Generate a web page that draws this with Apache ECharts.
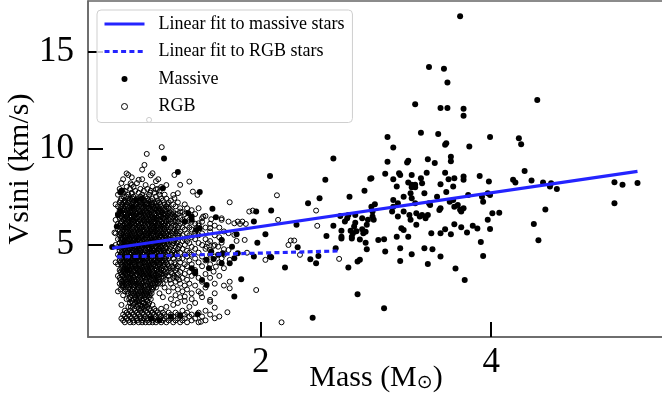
<!DOCTYPE html>
<html><head><meta charset="utf-8">
<script src="https://cdn.jsdelivr.net/npm/echarts@6/dist/echarts.min.js"></script>
<style>html,body{margin:0;padding:0;background:#fff}#c{width:662px;height:398px}</style>
</head><body><div id="c"></div>
<script>
const xTicks = [2, 4];
const yTicks = [5, 10, 15];
const massiveFit = [[0.71, 4.83], [5.27, 8.81]];
const rgbFit = [[0.75, 4.38], [2.68, 4.69]];

const massive = [
[3.73,16.83],[3.46,14.21],[3.59,14.12],[3.62,13.40],[3.34,12.28],[3.56,12.09],[3.62,12.09],[3.76,12.05],[3.76,11.68],[4.40,12.50],
[3.10,10.59],[3.39,10.81],[3.54,10.74],[3.99,10.59],[4.24,10.52],[3.15,10.04],[3.60,10.18],[3.61,10.26],[3.81,10.09],[4.26,10.21],
[2.63,9.47],[3.10,9.31],[3.27,9.26],[3.28,9.36],[3.45,9.44],[3.51,9.24],[3.65,9.57],[3.65,9.33],
[2.77,7.50],[2.90,7.80],[2.95,8.43],[3.08,8.68],[3.15,8.40],[3.18,8.02],[3.20,8.71],[3.21,8.62],[3.28,8.23],[3.31,7.99],[3.34,7.99],[3.31,8.62],[3.39,8.45],[3.40,8.19],[3.44,8.74],[3.56,8.14],[3.60,8.74],[3.61,7.74],[3.63,8.40],[3.68,8.45],[3.67,8.02],[3.76,8.54],[3.76,8.37],[3.90,8.57],[3.98,8.28],[4.19,8.37],[4.21,8.23],[4.29,8.83],[4.35,8.33],[4.45,8.23],[4.52,8.19],[4.51,8.02],[4.57,7.90],[5.07,8.25],[5.14,8.11],[5.27,8.21],
[3.99,7.59],[4.01,6.64],[4.07,6.67],[3.99,5.83],[4.47,6.83],[4.37,6.09],[4.41,5.24],[5.07,7.16],
[2.63,5.99],[2.65,4.83],[2.76,3.83],[2.84,4.14],[2.86,4.23],[2.84,2.45],[3.07,1.73],[2.73,6.21],[2.75,6.38],[2.70,5.43],[2.78,5.74],[2.79,5.43],[2.80,5.61],[2.81,5.95],[2.88,5.81],[2.89,5.61],[2.91,5.68],[2.92,6.04],[2.91,5.12],[2.92,4.78],[3.02,5.26],[3.07,5.30],[3.08,4.66],[3.21,4.83],[3.21,4.17],[3.18,5.43],[3.24,5.78],[3.28,5.43],[3.31,4.52],[3.42,4.83],[3.49,4.78],[3.45,4.02],[3.56,4.40],[3.48,5.61],[3.56,5.61],[3.60,5.81],[3.65,5.56],[3.68,6.07],[3.74,5.92],[3.79,5.64],[3.84,5.99],[3.88,5.85],[3.69,3.78],[3.77,3.19],[3.91,5.16],[3.93,4.43],[3.97,6.30],
[2.96,8.45],[3.64,7.24],[3.67,7.33],[3.71,7.07],[3.73,6.82],[3.80,7.59],[3.92,7.50],[3.93,7.24],[3.97,7.68],
[3.24,7.50],[3.30,7.68],[3.31,7.42],[3.34,7.16],[3.42,7.68],[3.46,7.16],[3.53,7.50],[3.56,6.90],[3.55,6.81],
[3.15,7.33],[3.19,7.16],[3.15,6.98],[3.14,6.73],[3.24,6.73],[3.19,6.47],[3.29,6.55],[3.30,6.30],[3.35,6.64],[3.35,6.04],[3.38,6.47],[3.40,6.55],[3.43,6.38],[3.45,6.55],
[2.97,6.73],[2.97,6.47],[2.98,6.30],[2.96,6.98],[2.99,7.11],[3.22,5.87],[3.31,8.11],[3.34,8.11],[3.47,7.07],[3.68,6.98],[3.76,6.90],[3.74,6.73],
[2.08,8.57],[2.56,8.37],[2.51,7.42],[2.41,7.16],[1.96,6.73],[2.09,6.78],[1.94,6.21],[2.31,6.04],[2.69,6.50],[2.76,6.55],[2.82,6.55],[2.82,6.15],[2.88,6.38],[2.93,6.30],
[2.04,5.56],[1.97,5.12],[2.57,5.47],[2.70,5.74],[2.70,5.33],[2.79,5.33],[2.83,5.71],[2.86,5.28],[2.32,4.88],[1.94,4.40],[2.08,4.40],[2.09,4.37],[2.43,4.26],[2.50,4.43],[2.48,4.06],[2.21,3.83],[2.45,1.24],
[0.78,7.73],[0.79,7.81],[1.16,9.47],[1.28,8.78],[1.47,7.74],[1.15,7.94],[1.58,6.87],[1.61,6.44],[0.92,7.33],[0.97,7.42],[0.78,6.73],[1.37,6.64],[1.40,6.47],[1.34,6.21],[1.44,5.78],[0.75,5.95],[0.76,6.55],[1.40,6.30],[1.47,5.87],[1.66,5.26],[1.75,4.91],[1.53,2.93],[1.43,3.54],[0.84,3.71],[1.79,5.56],
[1.83,3.23],[1.77,2.33],[1.57,4.66],[1.55,3.80],[1.49,3.19],[1.66,4.06],[1.73,4.06],[1.53,4.23],[1.59,4.28],[1.40,3.80],[1.43,3.62],[1.22,1.29],[1.45,1.42],[1.80,4.57],[1.77,4.31],[1.63,4.49],[1.67,4.57],
[0.71,4.90],[0.89,6.98],[1.05,1.20],[1.12,1.10],[1.30,1.35]
];

const rgbOutliers = [
[1.03,11.47],[1.14,10.06],[1.01,9.71],[0.99,9.14],[0.85,8.62],[0.94,8.37],[0.87,8.19],[0.88,8.11],[1.06,8.71],[1.11,8.40],[1.25,8.62],[1.30,8.11],[1.38,8.28],[1.06,8.02],[1.09,7.88],[1.12,7.76],[1.04,7.71],[0.88,7.64],[1.24,7.59],[1.25,7.42],[1.28,7.68],[1.41,7.76],[1.45,7.59],[1.73,7.21],[1.90,6.73],[0.82,7.24],[1.01,7.16],[1.05,7.12],[1.18,6.98],[1.20,6.90],[1.30,6.73],[1.50,6.47],[1.57,6.33],[1.66,6.30],[1.72,6.21],[1.77,6.12],[1.84,6.21],[1.25,6.50],[1.56,5.87],[1.72,5.61],[1.77,5.52],[0.73,5.64],
[1.93,6.78],[2.14,7.57],[2.15,6.30],[2.48,6.78],[2.49,5.99],[2.24,5.00],[2.26,5.23],[2.29,5.23],[2.34,4.49],[2.04,4.23],[2.68,4.28],[1.96,2.67],[2.18,1.00],
[1.73,3.10],[1.73,2.76],[1.60,2.50],[1.60,1.76],[1.48,2.50],[1.40,2.50],[1.34,2.33],[1.56,2.16],[1.71,1.52],[1.60,1.21],[1.48,1.03],[0.80,2.90],[1.86,5.26],[1.79,5.21],[1.72,4.74],[1.66,5.26],
[1.80,6.21],[1.82,6.09],[1.87,6.09],[1.66,6.38],[1.66,5.12],[1.63,4.91],[1.68,4.78],[1.59,4.95],[1.88,4.60],[1.59,3.62],[1.61,3.88],[1.56,2.07],[1.54,5.09],[1.56,4.74],[1.53,4.91],[1.44,5.87],[1.43,5.61],[1.49,6.38],[1.46,6.12],[1.66,4.31],[1.73,4.23]
];

// dense RGB cloud, listed as [mass, [vsini values at about that mass]]
const rgbColumns = [
[0.74,[4.1,5.0,5.6,6.3,7.1]],
[0.76,[2.6,3.4,4.0,4.5,4.9,5.3,5.8,6.1,6.6,7.0,7.6]],
[0.775,[3.0,3.3,3.7,4.2,4.4,4.7,5.1,5.5,5.7,6.0,6.4,6.8,7.2,7.9]],
[0.79,[1.2,1.9,2.9,3.1,3.5,3.8,4.0,4.3,4.6,4.8,5.0,5.2,5.4,5.6,5.9,6.2,6.5,6.7,7.0,7.4,8.2]],
[0.805,[1.1,1.4,2.4,2.8,3.2,3.4,3.6,3.9,4.1,4.4,4.7,4.9,5.1,5.3,5.5,5.8,6.0,6.3,6.6,6.9,7.2,7.7,8.4]],
[0.82,[1.0,1.3,1.6,2.6,3.0,3.3,3.5,3.8,4.0,4.2,4.5,4.8,5.0,5.2,5.4,5.7,5.9,6.1,6.4,6.7,7.0,7.3,7.8]],
[0.835,[1.2,1.5,2.2,2.9,3.1,3.4,3.7,3.9,4.1,4.3,4.6,4.9,5.1,5.3,5.6,5.8,6.0,6.2,6.5,6.8,7.1,7.5,8.0,8.7]],
[0.85,[1.1,1.4,1.8,2.5,2.8,3.0,3.3,3.6,3.8,4.0,4.2,4.4,4.7,5.0,5.2,5.4,5.7,5.9,6.1,6.3,6.6,6.9,7.2,7.6]],
[0.865,[1.0,1.3,1.6,2.0,2.3,2.7,3.1,3.4,3.5,3.9,4.1,4.3,4.5,4.8,5.0,5.3,5.5,5.8,6.0,6.2,6.4,6.7,7.0,7.4,7.9]],
[0.88,[1.2,1.5,2.1,2.4,2.6,2.9,3.2,3.5,3.7,4.0,4.2,4.4,4.6,4.9,5.1,5.3,5.6,5.8,6.1,6.3,6.5,6.8,7.1,7.3,7.7,8.5]],
[0.895,[1.0,1.1,1.4,1.9,2.2,2.5,2.8,3.0,3.3,3.6,3.8,4.1,4.3,4.5,4.7,5.0,5.2,5.4,5.7,5.9,6.2,6.4,6.6,6.9,7.2,7.5,8.0]],
[0.91,[1.3,1.6,2.0,2.3,2.6,2.9,3.1,3.4,3.7,3.9,4.0,4.2,4.4,4.6,4.8,5.1,5.3,5.5,5.8,6.0,6.3,6.5,6.7,7.0,7.3,7.8]],
[0.925,[1.1,1.2,1.5,1.8,2.1,2.4,2.7,3.0,3.2,3.5,3.8,4.1,4.3,4.5,4.7,4.9,5.2,5.4,5.6,5.9,6.1,6.4,6.6,6.9,7.1,7.4,8.2]],
[0.94,[1.0,1.4,1.7,2.0,2.2,2.5,2.8,3.1,3.3,3.6,3.9,4.0,4.2,4.4,4.6,4.8,5.0,5.3,5.5,5.7,6.0,6.2,6.5,6.8,7.0,7.3,7.7]],
[0.955,[1.2,1.3,1.6,1.9,2.3,2.6,2.9,3.2,3.4,3.7,4.0,4.2,4.5,4.7,4.9,5.1,5.4,5.6,5.8,6.1,6.3,6.6,6.8,7.1,7.5,7.9]],
[0.97,[1.0,1.1,1.5,1.8,2.1,2.4,2.7,3.0,3.3,3.5,3.8,4.1,4.3,4.4,4.6,4.9,5.2,5.4,5.7,5.9,6.2,6.4,6.7,6.9,7.2,7.6,8.4,8.9]],
[0.985,[1.2,1.4,1.7,2.0,2.2,2.5,2.8,3.1,3.4,3.6,3.9,4.1,4.3,4.5,4.8,5.0,5.3,5.5,5.8,6.0,6.3,6.5,6.8,7.0,7.3,7.8]],
[1.0,[1.0,1.3,1.6,1.9,2.3,2.6,2.9,3.2,3.5,3.7,4.0,4.2,4.4,4.7,4.9,5.1,5.4,5.6,5.9,6.1,6.4,6.6,6.9,7.2,7.5,8.1]],
[1.015,[1.1,1.2,1.5,1.8,2.1,2.4,2.7,3.0,3.3,3.6,3.8,4.1,4.3,4.6,4.8,5.0,5.3,5.5,5.7,6.0,6.2,6.5,6.7,7.0,7.4,7.9]],
[1.03,[1.0,1.4,1.7,2.0,2.3,2.5,2.8,3.1,3.4,3.6,3.9,4.2,4.4,4.6,4.9,5.1,5.4,5.6,5.8,6.1,6.3,6.6,6.9,7.1,7.6]],
[1.045,[1.2,1.3,1.6,2.2,2.6,2.9,3.2,3.5,3.7,4.0,4.3,4.5,4.7,5.0,5.2,5.5,5.7,5.9,6.2,6.4,6.7,7.0,7.3,7.8,8.6]],
[1.06,[1.0,1.1,1.5,1.9,2.7,3.0,3.3,3.6,3.8,4.1,4.4,4.6,4.8,5.1,5.3,5.6,5.8,6.0,6.3,6.5,6.8,7.1,7.4]],
[1.075,[1.2,1.4,1.7,2.9,3.1,3.4,3.7,4.0,4.2,4.5,4.7,5.0,5.2,5.4,5.7,5.9,6.2,6.4,6.6,6.9,7.2,7.7]],
[1.09,[1.0,1.3,1.6,2.8,3.2,3.5,3.8,4.1,4.3,4.6,4.9,5.1,5.3,5.5,5.8,6.0,6.3,6.5,6.8,7.0,7.5,8.3]],
[1.105,[1.1,1.5,3.0,3.3,3.6,3.9,4.2,4.4,4.7,5.0,5.2,5.5,5.7,5.9,6.1,6.4,6.7,7.0,7.3,7.9]],
[1.12,[1.2,1.4,2.5,3.1,3.5,3.8,4.0,4.3,4.6,4.8,5.1,5.4,5.6,5.8,6.1,6.3,6.6,6.9,7.2,7.6]],
[1.135,[1.0,1.3,1.7,3.3,3.7,4.1,4.4,4.7,4.9,5.2,5.5,5.7,6.0,6.2,6.5,6.8,7.0,7.4,8.0]],
[1.15,[1.1,1.5,2.3,3.0,3.4,3.9,4.2,4.5,4.8,5.1,5.3,5.6,5.9,6.1,6.4,6.6,6.9,7.3]],
[1.165,[1.2,1.4,2.8,3.6,4.0,4.3,4.6,5.0,5.2,5.5,5.8,6.0,6.3,6.5,6.8,7.1,7.6]],
[1.18,[1.0,1.3,1.8,3.2,3.8,4.1,4.4,4.8,5.1,5.4,5.6,5.9,6.2,6.4,6.7,7.0,7.4,8.1]],
[1.2,[1.1,1.5,2.6,3.4,3.9,4.3,4.7,5.0,5.3,5.5,5.8,6.1,6.3,6.6,6.9,7.2]],
[1.22,[1.2,1.4,2.2,3.0,3.6,4.1,4.5,4.9,5.2,5.5,5.9,6.2,6.5,6.8,7.3]],
[1.24,[1.0,1.3,1.9,2.8,3.3,3.8,4.3,4.7,5.1,5.4,5.7,6.0,6.4,6.7,7.1]],
[1.26,[1.1,1.5,2.4,3.1,3.7,4.0,4.5,4.9,5.3,5.6,6.0,6.3,6.6,7.0]],
[1.28,[1.2,1.4,2.0,2.7,3.5,3.9,4.4,4.8,5.2,5.5,5.9,6.2,6.6,7.2]],
[1.30,[1.0,1.3,2.3,3.0,3.6,4.1,4.6,5.0,5.4,5.7,6.1,6.4,6.9]],
[1.32,[1.1,1.6,2.6,3.3,3.8,4.3,4.8,5.2,5.5,5.9,6.3,6.7]],
[1.34,[1.2,1.4,2.1,2.9,3.5,4.0,4.5,5.0,5.3,5.8,6.2,6.6,7.1]],
[1.36,[1.0,1.5,2.7,3.2,3.9,4.4,4.7,5.2,5.6,6.0,6.4,6.9]],
[1.38,[1.3,1.8,3.0,3.6,4.2,4.6,5.1,5.5,5.9,6.3]],
[1.40,[1.1,1.4,2.2,3.4,4.0,4.5,4.9,5.4,5.8,6.2,6.8]],
[1.43,[1.2,2.0,2.9,3.7,4.3,4.8,5.3,5.7,6.1,6.6]],
[1.46,[1.0,1.5,2.6,3.3,4.1,4.6,5.1,5.5,6.0,6.9]],
[1.49,[1.3,2.3,3.1,3.9,4.4,5.0,5.6,6.2]],
[1.52,[1.1,1.6,2.8,3.5,4.2,4.8,5.3,5.9,6.5]],
[1.56,[1.4,3.3,4.0,4.5,5.2,5.7,6.1]],
[1.60,[3.0,4.4,5.0,5.5,6.0]],
[1.64,[1.3,3.4,4.1,5.4,5.9]],
[1.68,[2.9,3.8,4.5,5.7]],
// more of the crowded core
[0.7825,[2.7,3.2,3.6,4.1,4.5,4.9,5.3,5.6,6.1,6.5,6.9,7.3]],
[0.7975,[3.0,3.4,3.7,4.2,4.5,4.9,5.3,5.7,6.0,6.4,6.8,7.1,7.8]],
[0.8125,[2.9,3.1,3.7,4.3,4.6,5.0,5.2,5.6,5.9,6.3,6.8,7.5]],
[0.8275,[2.7,3.2,3.6,4.0,4.4,4.7,5.1,5.5,5.9,6.3,6.6,7.2]],
[0.8425,[2.6,3.0,3.5,3.9,4.3,4.8,5.2,5.5,5.9,6.4,6.7,7.0,7.4]],
[0.8575,[2.2,2.9,3.2,3.7,4.1,4.6,4.9,5.3,5.6,6.0,6.5,6.8,7.3]],
[0.8725,[1.8,2.5,3.0,3.3,3.8,4.2,4.6,5.0,5.4,5.7,6.1,6.5,6.9]],
[0.8875,[2.0,2.7,3.1,3.4,3.9,4.3,4.7,5.0,5.5,5.9,6.2,6.7,7.0,7.4]],
[0.9025,[1.7,2.4,2.9,3.2,3.7,4.0,4.4,4.9,5.3,5.6,6.1,6.5,6.8,7.3]],
[0.9175,[2.2,2.5,3.0,3.5,3.8,4.3,4.7,5.0,5.4,5.7,6.2,6.6,7.1]],
[0.9325,[1.9,2.6,2.9,3.4,3.7,4.2,4.6,5.1,5.3,5.8,6.2,6.7,7.2]],
[0.9475,[2.1,2.4,3.0,3.5,3.8,4.3,4.7,5.2,5.6,5.9,6.3,6.7,7.2]],
[0.9625,[1.7,2.5,2.8,3.1,3.6,3.9,4.4,4.8,5.0,5.5,5.9,6.5,7.0,7.4]],
[0.9775,[2.0,2.6,2.9,3.4,3.7,4.2,4.5,5.1,5.5,5.8,6.1,6.6,7.1]],
[0.9925,[1.8,2.4,2.7,3.3,3.8,4.1,4.6,5.0,5.2,5.7,6.2,6.7,7.3]],
[1.0075,[2.2,2.5,3.1,3.4,3.9,4.3,4.5,5.0,5.5,5.8,6.3,6.8,7.1]],
[1.0225,[1.9,2.6,2.9,3.5,3.7,4.0,4.5,4.9,5.2,5.6,6.1,6.4,6.9,7.3]],
[1.0375,[2.4,3.0,3.3,3.8,4.1,4.6,4.8,5.3,5.7,6.0,6.5,6.8]],
[1.0525,[2.5,2.8,3.4,3.9,4.2,4.6,4.9,5.4,5.8,6.1,6.6,7.2]],
[1.0675,[2.8,3.2,3.5,4.0,4.3,4.7,5.2,5.5,5.9,6.2,6.7,7.0]],
[1.0825,[3.0,3.3,3.9,4.2,4.5,4.9,5.3,5.7,6.1,6.4,6.9]],
[1.0975,[3.1,3.4,3.7,4.1,4.6,4.9,5.2,5.6,6.0,6.4,6.9,7.2]],
[1.1125,[3.2,3.5,4.0,4.4,4.8,5.3,5.6,6.0,6.5,6.8]],
[1.1275,[3.0,3.6,3.9,4.3,4.7,5.1,5.5,5.9,6.3,6.7,7.1]],
[1.1425,[3.5,3.8,4.2,4.6,5.0,5.4,5.8,6.2,6.7]],
[1.1575,[3.3,3.7,4.1,4.7,5.1,5.6,6.0,6.4,6.8]],
[1.1725,[3.5,4.2,4.5,4.9,5.3,5.7,6.1,6.6]],
[1.19,[3.6,4.0,4.6,5.2,5.7,6.0,6.5,7.1]],
[1.21,[3.2,3.8,4.4,4.8,5.4,5.7,6.4,6.7]],
[1.23,[3.5,3.9,4.5,5.0,5.6,6.1,6.6]],
[1.25,[3.4,4.1,4.6,5.2,5.8,6.2]],
[1.27,[3.3,3.8,4.6,5.1,5.7,6.4]],
[1.29,[3.2,4.3,4.9,5.6,6.0]]
];

const rgb = rgbOutliers.concat(...rgbColumns.map(c => c[1].map(v => [c[0], v])));

const serif = "'Liberation Serif','Times New Roman',serif";
const blue = '#2424ff';
const hideSym = {color: 'rgba(0,0,0,0)', borderWidth: 0, opacity: 0};
const chart = echarts.init(document.getElementById('c'));
chart.setOption({
  animation: false,
  grid: {left: 88, right: -2, top: 1, bottom: 61, outerBoundsMode: 'none', containLabel: false,
    show: true, borderColor: '#666', borderWidth: 1.5, backgroundColor: 'transparent'},
  legend: {
    orient: 'vertical', left: 97, top: 10, padding: [5, 8, 7, 6], itemGap: 9.5, itemWidth: 40, itemHeight: 6,
    backgroundColor: 'rgba(255,255,255,0.8)', borderColor: '#cfcfcf', borderWidth: 1, borderRadius: 4,
    textStyle: {fontFamily: serif, fontSize: 18, color: '#000', lineHeight: 18, padding: [0, 0, 0, 9]},
    lineStyle: {width: 3},
    data: [{name: 'Linear fit to massive stars', itemStyle: hideSym},
           {name: 'Linear fit to RGB stars', itemStyle: hideSym},
           {name: 'Massive'},
           {name: 'RGB', itemStyle: {borderWidth: 1}}]
  },
  xAxis: {
    type: 'value', min: 0.5, max: 5.5,
    axisLine: {show: true, onZero: false, lineStyle: {color: '#666', width: 1.5}},
    axisTick: {show: true, inside: true, length: 15, customValues: xTicks, lineStyle: {color: '#000', width: 2}},
    axisLabel: {customValues: xTicks, margin: 8, fontFamily: serif, fontSize: 35, color: '#000'},
    splitLine: {show: false},
    name: 'Mass (M{s|⊙})', nameLocation: 'middle', nameGap: 26, nameMoveOverlap: false,
    nameTextStyle: {fontFamily: serif, fontSize: 30, color: '#000',
      rich: {s: {fontSize: 19, fontFamily: "'DejaVu Sans',sans-serif", color: '#000', verticalAlign: 'bottom'}}}
  },
  yAxis: {
    type: 'value', min: 0.24, max: 17.62,
    axisLine: {show: true, onZero: false, lineStyle: {color: '#666', width: 1.5}},
    axisTick: {show: true, inside: true, length: 15, customValues: yTicks, lineStyle: {color: '#000', width: 2}},
    axisLabel: {customValues: yTicks, margin: 14, fontFamily: serif, fontSize: 35, color: '#000'},
    splitLine: {show: false},
    name: 'Vsini (km/s)', nameLocation: 'middle', nameGap: 53, nameMoveOverlap: false,
    nameTextStyle: {fontFamily: serif, fontSize: 30, color: '#000'}
  },
  series: [
    {name: 'Linear fit to massive stars', type: 'line', data: massiveFit, symbol: 'none', z: 3,
      lineStyle: {color: blue, width: 3.2}, itemStyle: {color: blue}},
    {name: 'Linear fit to RGB stars', type: 'line', data: rgbFit, symbol: 'none', z: 3,
      lineStyle: {color: blue, width: 3.2, type: [5, 3.3]}, itemStyle: {color: blue}},
    {name: 'Massive', type: 'scatter', data: massive, symbolSize: 6, z: 2, itemStyle: {color: '#000', opacity: 1}},
    {name: 'RGB', type: 'scatter', data: rgb, symbolSize: 5, z: 2,
      itemStyle: {color: 'rgba(0,0,0,0)', borderColor: '#000', borderWidth: 1, opacity: 1}}
  ]
});
</script></body></html>
